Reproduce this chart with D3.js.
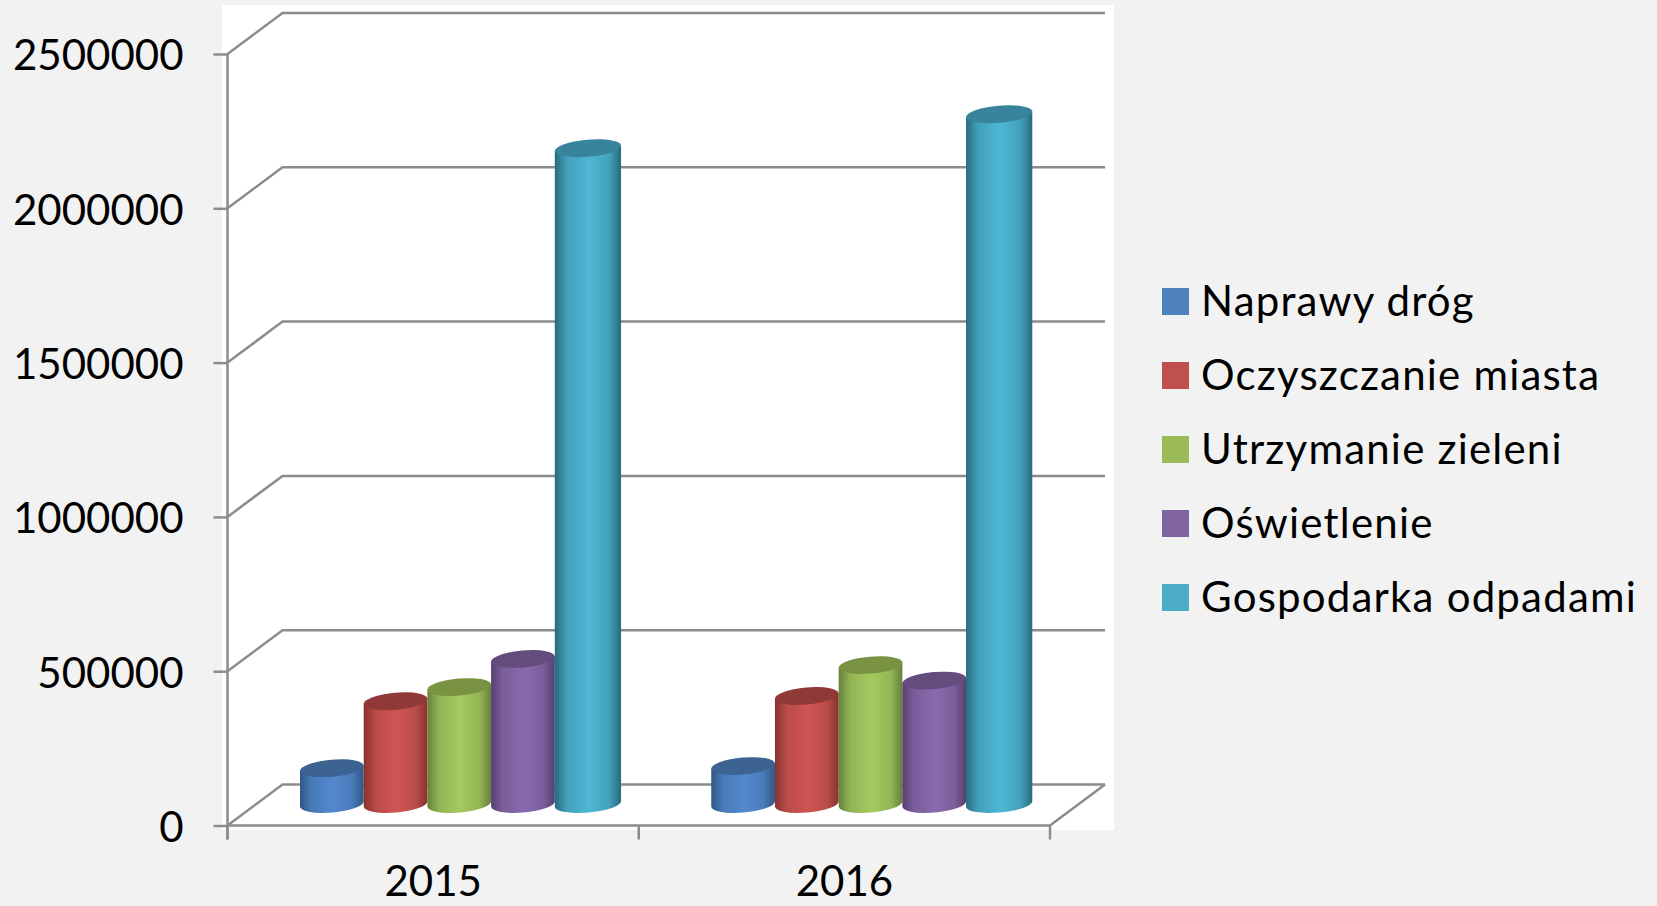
<!DOCTYPE html>
<html>
<head>
<meta charset="utf-8">
<script src="https://cdn.jsdelivr.net/npm/d3@7"></script>
<style>
  html, body { margin: 0; padding: 0; background: #f2f2f2; overflow: hidden; }
  text { font-family: Lato, "Open Sans", sans-serif; fill: #000; }
  .axis .domain { display: none; }
  .axis line { stroke: #8c8c8c; stroke-width: 2.5; }
</style>
</head>
<body>
<div id="chart"></div>
<script>
var years = ["2015", "2016"];
var seriesNames = ["Naprawy dróg", "Oczyszczanie miasta", "Utrzymanie zieleni", "Oświetlenie", "Gospodarka odpadami"];
var values2015 = [116000, 333000, 379000, 470000, 2125000];
var values2016 = [123000, 350000, 450000, 400000, 2235000];
var yTicks = [0, 500000, 1000000, 1500000, 2000000, 2500000];
var legendColors = ["#4f81bd", "#c0504d", "#9bbb59", "#8064a2", "#4bacc6"];
var centerColors = ["#5389ce", "#cf5553", "#a5ca60", "#8a6aae", "#4eb7d4"];
var edgeColors = ["#2f5684", "#853230", "#66803a", "#54406f", "#286a7e"];
var topColors = ["#3c6391", "#8f3a38", "#7a9343", "#654c7e", "#37849c"];

function init() {
  var w = 1657;
  var h = 906;
  var left = 227.5;
  var floorY = 825.5;
  var topY = 54;
  var right = 1050;
  var depthX = 55;
  var depthY = 41;
  var tilt = 5 * Math.PI / 180;
  var ry = 8.5;
  var gridColor = "#8c8c8c";
  var gridWidth = 2.5;

  var svg = d3.select("#chart").append("svg")
    .attr("width", w)
    .attr("height", h)
    .style("display", "block");

  svg.append("rect")
    .attr("x", 222)
    .attr("y", 5)
    .attr("width", 892)
    .attr("height", 825)
    .attr("fill", "#fff");

  var yScale = d3.scaleLinear().domain([0, 2500000]).range([floorY, topY]);
  var xScale = d3.scaleBand().domain(years).range([left, right]);
  var seriesScale = d3.scaleBand().domain(seriesNames).range([72.5, 391]);

  // back wall gridlines
  svg.append("g").selectAll("path")
    .data(yTicks)
    .enter()
    .append("path")
    .attr("fill", "none")
    .attr("stroke", gridColor)
    .attr("stroke-width", gridWidth)
    .attr("d", function (d) {
      var y = yScale(d);
      return "M" + left + "," + y + "L" + (left + depthX) + "," + (y - depthY) + "H" + (right + depthX);
    });

  // floor edges
  svg.append("path")
    .attr("fill", "none")
    .attr("stroke", gridColor)
    .attr("stroke-width", gridWidth)
    .attr("d", "M" + left + "," + floorY + "H" + right + "L" + (right + depthX) + "," + (floorY - depthY));

  svg.append("g")
    .attr("class", "axis")
    .attr("transform", "translate(" + left + ",0)")
    .call(d3.axisLeft(yScale).tickValues(yTicks).tickSize(14).tickPadding(30).tickFormat(d3.format("d")))
    .call(function (g) {
      g.selectAll("text").style("font-size", "42px").attr("dy", "0.38em");
    });

  svg.append("line")
    .attr("x1", left).attr("x2", left)
    .attr("y1", topY).attr("y2", floorY + 14)
    .attr("stroke", gridColor)
    .attr("stroke-width", gridWidth);

  var xAxis = svg.append("g")
    .attr("class", "axis")
    .attr("transform", "translate(0," + floorY + ")")
    .call(d3.axisBottom(xScale).tickSize(0).tickPadding(41));
  xAxis.selectAll("text").style("font-size", "42px").attr("dy", "0.71em");

  svg.append("g").selectAll("line")
    .data([left, left + xScale.step(), left + 2 * xScale.step()])
    .enter()
    .append("line")
    .attr("x1", function (d) { return d; })
    .attr("x2", function (d) { return d; })
    .attr("y1", floorY)
    .attr("y2", floorY + 14)
    .attr("stroke", gridColor)
    .attr("stroke-width", gridWidth);

  // one gradient per series
  var defs = svg.append("defs");
  seriesNames.forEach(function (name, i) {
    var grad = defs.append("linearGradient")
      .attr("id", "cyl" + i)
      .attr("x1", 0).attr("x2", 1).attr("y1", 0).attr("y2", 0);
    var mix = d3.interpolateRgb(edgeColors[i], centerColors[i]);
    grad.append("stop").attr("offset", 0).attr("stop-color", edgeColors[i]);
    grad.append("stop").attr("offset", 0.18).attr("stop-color", mix(0.7));
    grad.append("stop").attr("offset", 0.52).attr("stop-color", centerColors[i]);
    grad.append("stop").attr("offset", 0.82).attr("stop-color", mix(0.72));
    grad.append("stop").attr("offset", 1).attr("stop-color", edgeColors[i]);
  });

  function drawCylinder(g, year, value, i) {
    var bw = seriesScale.bandwidth();
    if (i == 4) {
      bw = bw * 1.04;
    }
    var x0 = xScale(year) + seriesScale(seriesNames[i]);
    var cx = x0 + bw / 2;
    var baseY = floorY - depthY / 2 - 1;
    var valueTop = baseY - (floorY - yScale(value));
    var rx = (bw / 2) / Math.cos(tilt);
    var dy = (bw / 2) * Math.tan(tilt);
    var rot = -tilt * 180 / Math.PI;
    var arc = "A" + rx + "," + ry + " " + rot + " 0 0 ";

    g.append("path")
      .attr("fill", "url(#cyl" + i + ")")
      .attr("d", "M" + x0 + "," + (valueTop + dy) +
        "L" + x0 + "," + (baseY + dy) +
        arc + (x0 + bw) + "," + (baseY - dy) +
        "L" + (x0 + bw) + "," + (valueTop - dy) + "Z");

    g.append("ellipse")
      .attr("cx", 0)
      .attr("cy", 0)
      .attr("rx", rx)
      .attr("ry", ry)
      .attr("transform", "translate(" + cx + "," + valueTop + ") rotate(" + rot + ")")
      .attr("fill", topColors[i]);
  }

  var bars = svg.append("g");
  years.forEach(function (year, k) {
    var vals = k == 0 ? values2015 : values2016;
    vals.forEach(function (v, i) {
      drawCylinder(bars, year, v, i);
    });
  });

  // legend
  var legend = svg.append("g").selectAll("g")
    .data(seriesNames)
    .enter()
    .append("g")
    .attr("transform", function (d, i) {
      return "translate(1162," + (288 + i * 74) + ")";
    });
  legend.append("rect")
    .attr("width", 27)
    .attr("height", 27)
    .attr("fill", function (d, i) { return legendColors[i]; });
  legend.append("text")
    .attr("x", 39)
    .attr("y", 14)
    .attr("dy", "0.33em")
    .style("font-size", "42px")
    .style("letter-spacing", "1.2px")
    .text(function (d) { return d; });
}

window.onload = init;
</script>
</body>
</html>
